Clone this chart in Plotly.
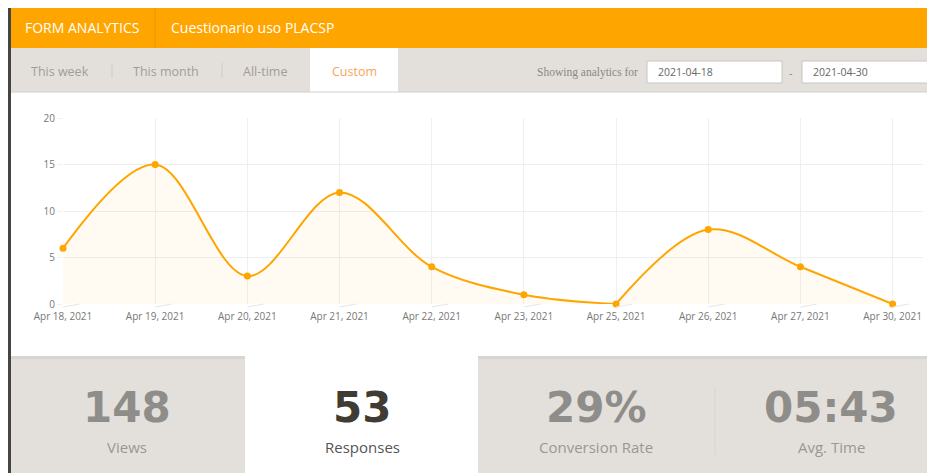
"""Form analytics dashboard: responses per day with summary stats."""

import plotly.graph_objects as go

# the page body adds an 8px margin, so the figure is laid out relative to it
OX, OY = 8, 8
W, H = 935 - OX, 473 - OY

# Chart data
dates = ['Apr 18, 2021', 'Apr 19, 2021', 'Apr 20, 2021', 'Apr 21, 2021', 'Apr 22, 2021',
         'Apr 23, 2021', 'Apr 25, 2021', 'Apr 26, 2021', 'Apr 27, 2021', 'Apr 30, 2021']
responses = [6, 15, 3, 12, 4, 1, 0, 8, 4, 0]
y_ticks = [0, 5, 10, 15, 20]

# Header / tabs / summary text
form_title = 'Cuestionario uso PLACSP'
tabs = ['This week', 'This month', 'All-time', 'Custom']
date_from, date_to = '2021-04-18', '2021-04-30'
stat_values = ['148', '53', '29%', '05:43']
stat_labels = ['Views', 'Responses', 'Conversion Rate', 'Avg. Time']

ORANGE = '#ffa500'
PANEL = '#e3e0dc'
FONT = 'Open Sans'


def px(x):
    return (x - OX) / W


def py(y):
    return 1 - (y - OY) / H


def rect(x0, y0, x1, y1, fill, line=None, width=1):
    return dict(type='rect', xref='paper', yref='paper',
                x0=px(x0), x1=px(x1), y0=py(y1), y1=py(y0),
                fillcolor=fill, line=dict(color=line or fill, width=width if line else 0),
                layer='below')


def vline(x, y0, y1, color, width=1):
    return dict(type='line', xref='paper', yref='paper',
                x0=px(x), x1=px(x), y0=py(y0), y1=py(y1),
                line=dict(color=color, width=width))


def text(x, y, s, size, color, anchor='center', family=FONT, bold=False):
    return dict(xref='paper', yref='paper', x=px(x), y=py(y), text=s,
                showarrow=False, xanchor=anchor, yanchor='middle',
                font=dict(family=family, size=size, color=color,
                          weight='bold' if bold else 'normal'))


xs = list(range(len(dates)))
# the line is split at the zero point (Apr 25) so the spline does not dip under the axis
split = responses.index(0)

fig = go.Figure()
for a, b in [(0, split + 1), (split, len(dates))]:
    fig.add_trace(go.Scatter(
        x=xs[a:b], y=responses[a:b],
        mode='lines',
        line=dict(color=ORANGE, width=2, shape='spline', smoothing=1.0),
        fill='tozeroy', fillcolor='rgba(255,165,0,0.05)',
        hoverinfo='skip', showlegend=False,
    ))
fig.add_trace(go.Scatter(
    x=xs, y=responses, mode='markers',
    marker=dict(color=ORANGE, size=7),
    cliponaxis=False, hoverinfo='skip', showlegend=False,
))

shapes = [
    # header
    rect(10, 8, 940, 48, ORANGE),
    vline(155, 8, 48, '#e89400'),
    # tab bar
    rect(10, 48, 940, 92, PANEL),
    dict(type='line', xref='paper', yref='paper', x0=px(10), x1=px(940), y0=py(92), y1=py(92),
         line=dict(color='#d2cfca', width=1)),
    rect(310, 48, 398, 93, 'white'),
    vline(112, 63, 78, '#cfccc7'),
    vline(222, 63, 78, '#cfccc7'),
    # date inputs
    rect(647, 61, 782, 83, 'white', '#c9c6c1'),
    rect(802, 61, 955, 83, 'white', '#c9c6c1'),
    # summary panels
    rect(10, 356, 245, 480, PANEL),
    rect(478, 356, 940, 480, PANEL),
    rect(10, 356, 245, 359, '#d8d5d0'),
    rect(478, 356, 940, 359, '#d8d5d0'),
    vline(715, 387, 455, '#d6d3ce'),
    # left border
    vline(9.5, 8, 480, '#444444', 3),
]
# faint slanted tick marks under the x axis
for x in xs:
    shapes.append(dict(type='line', xref='x', yref='paper',
                       x0=x, x1=x + 0.18, y0=py(307), y1=py(304),
                       line=dict(color='#e6e6e6', width=1)))

annotations = [
    text(23, 27, 'FORM ANALYTICS', 14, 'white', 'left'),
    text(169, 27, form_title, 14, 'white', 'left'),
    text(60, 71, tabs[0], 12.5, '#a09d98'),
    text(166, 71, tabs[1], 12.5, '#a09d98'),
    text(265, 71, tabs[2], 12.5, '#a09d98'),
    text(354, 71, tabs[3], 12.5, '#f7a55c'),
    text(640, 72, 'Showing analytics for', 11.5, '#8a8783', 'right', 'Liberation Serif'),
    text(656, 72, date_from, 10.5, '#666666', 'left'),
    text(791, 72, '-', 11, '#888888'),
    text(811, 72, date_to, 10.5, '#666666', 'left'),
]

centers = [127, 362, 596, 831]
for i, (val, lab) in enumerate(zip(stat_values, stat_labels)):
    dark = i == 1
    annotations.append(text(centers[i], 407, val, 42, '#403b33' if dark else '#8f8d89',
                            family='DejaVu Sans', bold=True))
    annotations.append(text(centers[i], 447, lab, 15, '#555555' if dark else '#9a9793'))

fig.update_layout(
    width=W, height=H,
    margin=dict(l=0, r=0, t=0, b=0, pad=0, autoexpand=False),
    paper_bgcolor='white', plot_bgcolor='white',
    font=dict(family=FONT),
    shapes=shapes,
    annotations=annotations,
    xaxis=dict(
        domain=[px(63), px(923)], range=[0, 9.33],
        tickmode='array', tickvals=xs, ticktext=dates,
        showgrid=True, gridcolor='#efefef', zeroline=False, showline=False,
        ticks='outside', ticklen=3, tickcolor='rgba(0,0,0,0)',
        tickfont=dict(size=10, color='#777777'),
        automargin=False, fixedrange=True,
    ),
    yaxis=dict(
        domain=[py(304), py(118)], range=[0, 20],
        tickmode='array', tickvals=y_ticks,
        showgrid=True, gridcolor='#efefef', zeroline=False, showline=False,
        ticks='outside', ticklen=5, tickcolor='#efefef',
        tickfont=dict(size=10, color='#777777'),
        automargin=False, fixedrange=True,
    ),
)

fig.write_html('out.html', config={'displayModeBar': False})
